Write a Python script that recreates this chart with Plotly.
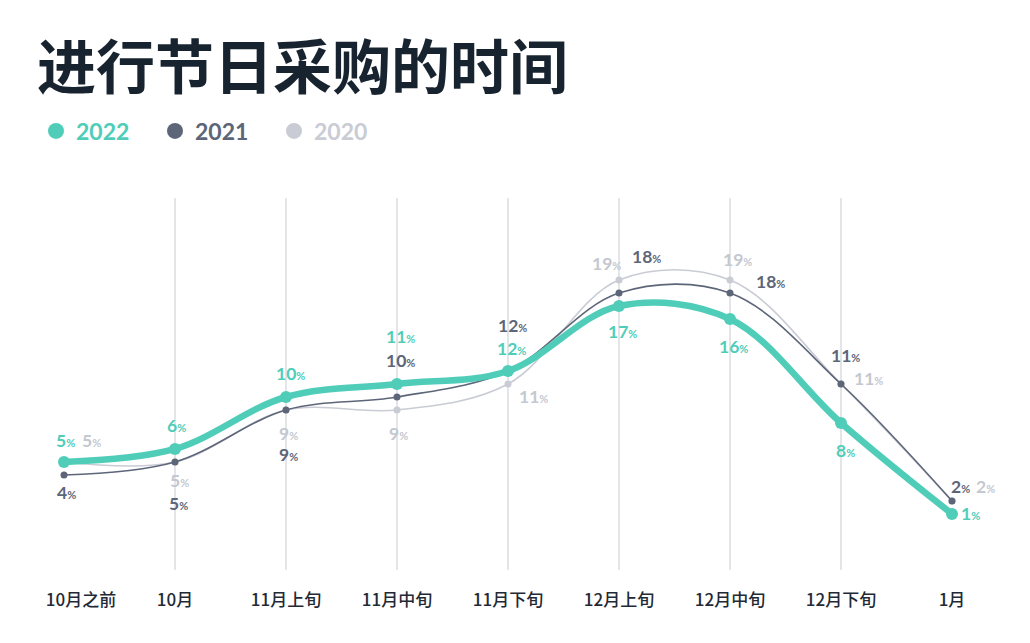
import plotly.graph_objects as go

categories = ["10月之前", "10月", "11月上旬", "11月中旬", "11月下旬", "12月上旬", "12月中旬", "12月下旬", "1月"]
values_2022 = [5, 6, 10, 11, 12, 17, 16, 8, 1]
values_2021 = [4, 5, 9, 10, 12, 18, 18, 11, 2]
values_2020 = [5, 5, 9, 9, 11, 19, 19, 11, 2]

# label offsets (px) relative to each point: (xshift, yshift)
offsets_2022 = [(1, 21), (1, 23), (4, 24), (3, 48), (3, 23), (3, -25), (3, -27), (4, -28), (18, 0)]
offsets_2021 = [(2, -18), (3, -42), (2, -44), (3, 37), (4, 46), (27, 37), (40, 12), (4, 29), (8, 14)]
offsets_2020 = [(27, 21), (4, -19), (2, -23), (1, -23), (25, -12), (-13, 17), (7, 21), (27, 6), (33, 14)]

series = [
    ("2020", values_2020, offsets_2020, "#c9ccd4", "#c4c8d0", 1.6, 7),
    ("2021", values_2021, offsets_2021, "#5d6679", "#5d6679", 1.6, 7),
    ("2022", values_2022, offsets_2022, "#4fcdb9", "#4fcdb9", 6.5, 12),
]

xs = list(range(len(categories)))
fig = go.Figure()
annotations = []
for name, vals, offs, color, lcolor, lw, ms in series:
    fig.add_trace(go.Scatter(
        x=xs, y=vals, mode="lines+markers", name=name, showlegend=False,
        line=dict(color=color, width=lw, shape="spline", smoothing=1.0),
        marker=dict(color=color, size=ms), cliponaxis=False, hoverinfo="skip",
    ))
    for i, v in enumerate(vals):
        annotations.append(dict(
            x=xs[i], y=v, xref="x", yref="y", showarrow=False,
            text=f"<b>{v}<span style='font-size:11px'>%</span></b>",
            xshift=offs[i][0], yshift=offs[i][1],
            font=dict(family="Lato, sans-serif", size=17.5, color=lcolor),
        ))

# legend entries
for name, color in [("2022", "#4fcdb9"), ("2021", "#5d6679"), ("2020", "#c9ccd4")]:
    fig.add_trace(go.Scatter(
        x=[None], y=[None], mode="markers", showlegend=True,
        name=f"<span style='color:{color}'>{name}</span>",
        marker=dict(color=color, size=18),
    ))

ticktext = list(categories)
ticktext[0] = "\u2003\u2003" + ticktext[0]

fig.update_layout(
    width=1030, height=643,
    paper_bgcolor="white", plot_bgcolor="white",
    margin=dict(l=56, r=78, t=198, b=73),
    title=dict(
        text="<b>进行节日采购的时间</b>", xref="container", yref="container",
        x=37 / 1030, xanchor="left", y=1 - 68 / 643, yanchor="middle",
        font=dict(family="Noto Sans CJK SC", size=59, color="#17232f"),
    ),
    legend=dict(
        orientation="h", xref="container", yref="container",
        x=36 / 1030, xanchor="left", y=1 - 131 / 643, yanchor="middle",
        font=dict(family="Lato, sans-serif", size=23, weight="bold"),
        itemsizing="trace", entrywidth=74, bgcolor="rgba(0,0,0,0)",
    ),
    xaxis=dict(
        range=[0, 8], tickvals=xs, ticktext=ticktext, showgrid=True,
        gridcolor="#e3e5e9", gridwidth=1.5, zeroline=False, showline=False,
        ticks="", ticklabelstandoff=18,
        tickfont=dict(family="Noto Sans CJK SC", size=17, color="#1f2a36", weight=500),
    ),
    yaxis=dict(range=[-3.31, 25.31], visible=False, showgrid=False, zeroline=False),
    annotations=annotations,
    showlegend=True,
)

fig.write_html("out.html", config={"displayModeBar": False},
               post_script="document.body.style.margin='0';")
